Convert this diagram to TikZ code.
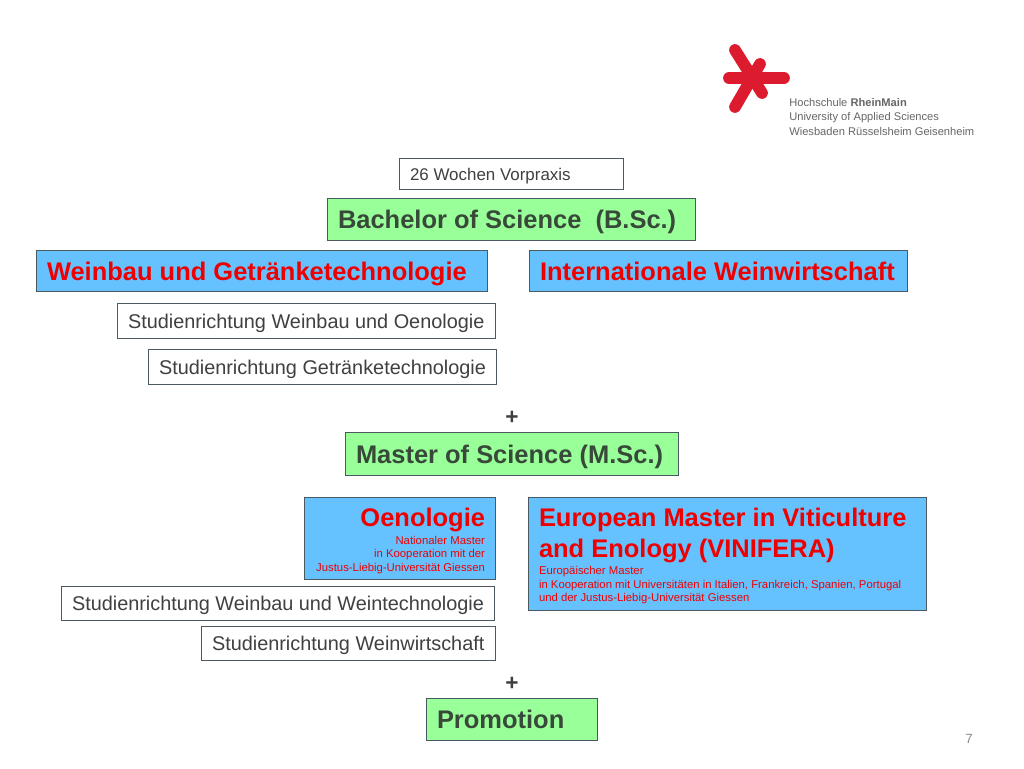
\documentclass[tikz,border=0pt]{standalone}
\usepackage{fontspec}
\setmainfont{Liberation Sans}
\definecolor{skyfill}{HTML}{66C2FF}
\definecolor{mint}{HTML}{99FF99}
\definecolor{edge}{HTML}{4A5A60}
\definecolor{ink}{HTML}{404040}
\definecolor{leaf}{HTML}{38493A}
\definecolor{hsred}{HTML}{DC1C2E}
\definecolor{redt}{HTML}{EE0000}
\tikzset{
  pxbox/.style 2 args={draw=edge,line width=1.15pt,rectangle,inner sep=0pt,text depth=0pt,
    minimum width=(#1-1.2)*0.75pt,minimum height=(#2-1.2)*0.75pt,text width=(#1-22)*0.75pt},
  whitebox/.style 2 args={pxbox={#1}{#2},fill=white,text=ink,font=\fontsize{14.9}{17}\selectfont,align=flush left},
  greenbox/.style 2 args={pxbox={#1}{#2},fill=mint,text=leaf,font=\fontsize{19.1}{23}\bfseries\selectfont,align=flush left},
  bluebox/.style 2 args={pxbox={#1}{#2},fill=skyfill,text=redt,font=\fontsize{19.1}{23}\bfseries\selectfont,align=flush left},
  plus/.style={text=ink,font=\fontsize{17}{20}\bfseries\selectfont,inner sep=0pt},
  logoarm/.style={draw=hsred,line width=8.8pt,line cap=round},
  logotext/.style={anchor=base west,inner sep=0pt,text=black!60,font=\fontsize{8.35}{9}\selectfont},
}
\newcommand{\smallred}{\fontsize{8.5}{10.2}\selectfont\mdseries\color{redt}}
\begin{document}
\hyphenpenalty=10000
\begin{tikzpicture}[x=0.75pt,y=-0.75pt]
\useasboundingbox (0,0) rectangle (1024,768);
\fill[white] (0,0) rectangle (1024,768);
% logo
\coordinate (armLa) at (729,78); \coordinate (armLb) at (784,78);
\coordinate (armDa) at (735,50); \coordinate (armDb) at (762,93);
\coordinate (armUa) at (735,107); \coordinate (armUb) at (760,64);
\draw[logoarm] (armLa) -- (armLb);
\draw[logoarm] (armDa) -- (armDb);
\draw[logoarm] (armUa) -- (armUb);
\node[logotext] (logoA) at (789,106) {Hochschule \textbf{RheinMain}};
\node[logotext] (logoB) at (789,120) {University of Applied Sciences};
\node[logotext] (logoC) at (789,135) {Wiesbaden Rüsselsheim Geisenheim};
% boxes
\node[whitebox={225}{32},font=\fontsize{12.7}{15}\selectfont] (vor) at (511.5,174) {26 Wochen Vorpraxis};
\node[greenbox={369}{43}] (bsc) at (511.5,219.5) {Bachelor of Science\ \ (B.Sc.)};
\node[bluebox={452}{42}] (wg) at (262,271) {Weinbau und Getränketechnologie};
\node[bluebox={379}{42}] (iw) at (718.5,271) {Internationale Weinwirtschaft};
\node[whitebox={379}{36}] (s1) at (306.5,321) {Studienrichtung Weinbau und Oenologie};
\node[whitebox={349}{36}] (s2) at (322.5,367) {Studienrichtung Getränketechnologie};
\node[plus] (p1) at (512,418) {+};
\node[greenbox={334}{44}] (msc) at (512,454) {Master of Science (M.Sc.)};
\node[bluebox={192}{83},align=flush right,text depth=31.3pt] (oen) at (400,538.5) {Oenologie\par\vspace{1.9pt}{\smallred Nationaler Master\ \par in Kooperation mit der\par Justus-Liebig-Universität Giessen\par}};
\node[bluebox={399}{114},text depth=54.5pt] (vin) at (727.5,554) {European Master in Viticulture\par and Enology (VINIFERA)\par\vspace{1.5pt}{\smallred Europäischer Master\par in Kooperation mit Universitäten in Italien, Frankreich, Spanien, Portugal\par und der Justus-Liebig-Universität Giessen\par}};
\node[whitebox={434}{35}] (s3) at (278,603.5) {Studienrichtung Weinbau und Weintechnologie};
\node[whitebox={295}{35}] (s4) at (348.5,643.5) {Studienrichtung Weinwirtschaft};
\node[plus] (p2) at (512,684) {+};
\node[greenbox={172}{43}] (pro) at (512,719.5) {Promotion};
\node[inner sep=0pt,text=black!45,font=\fontsize{10}{12}\selectfont] (page) at (969,739) {7};
\end{tikzpicture}
\end{document}
